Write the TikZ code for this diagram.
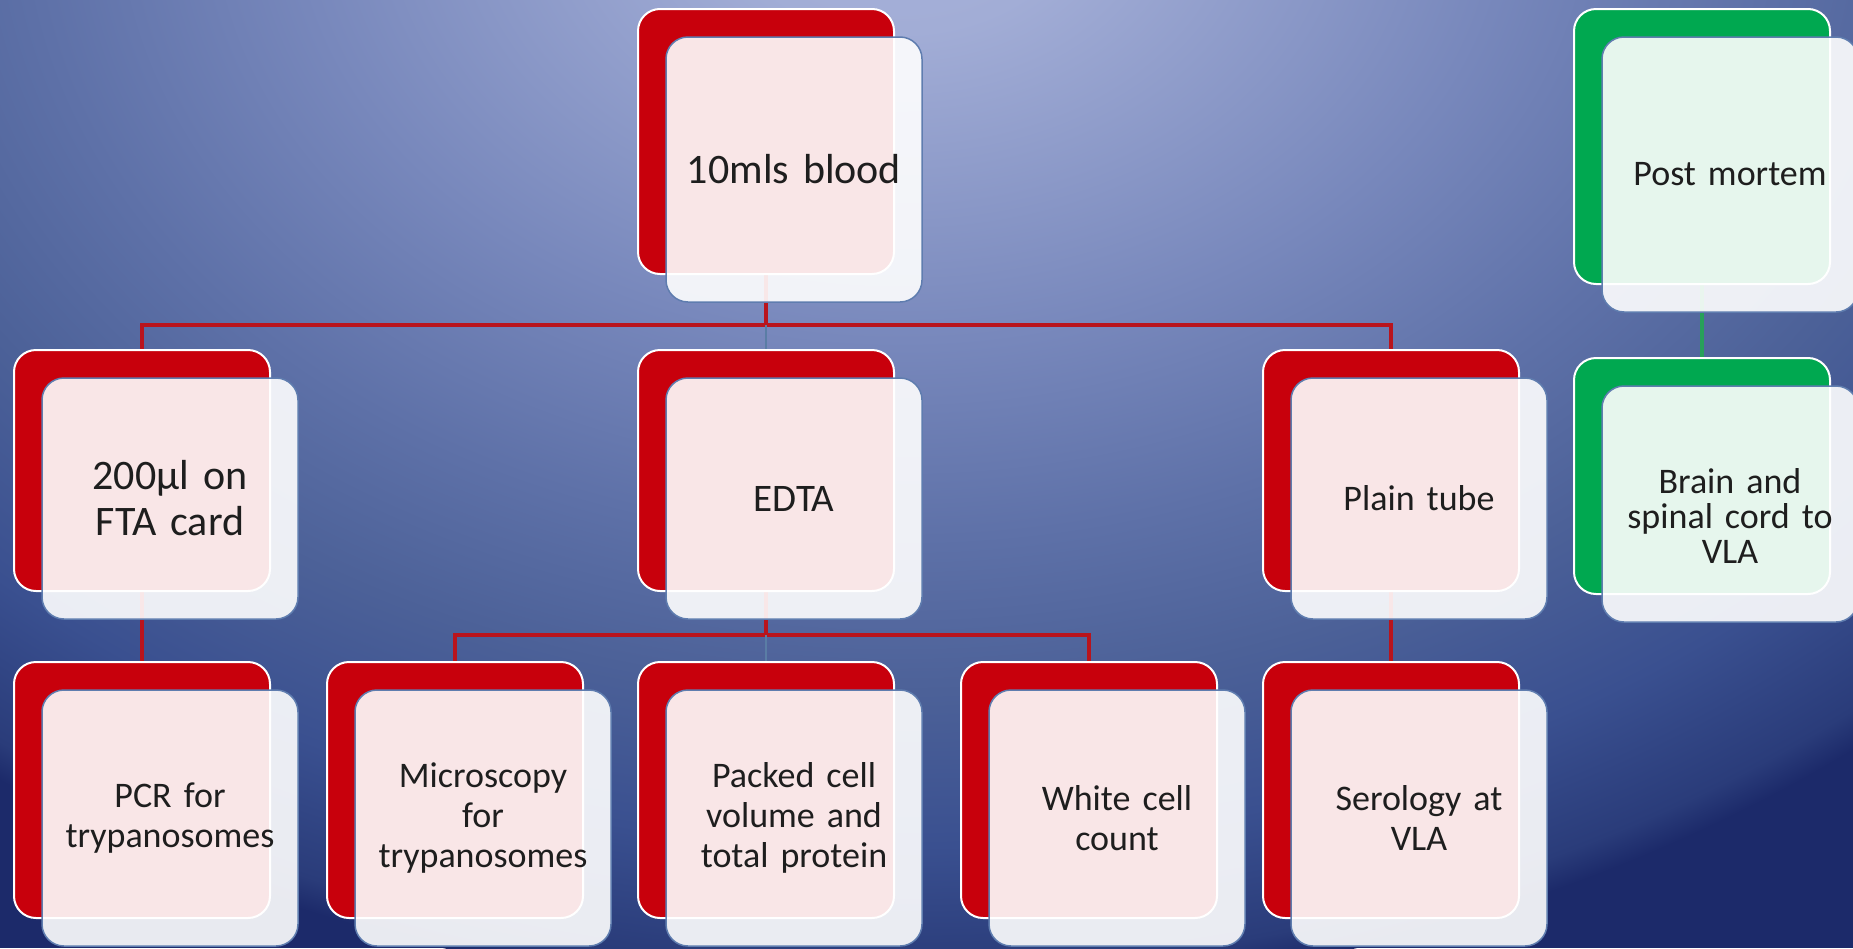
\documentclass[tikz,border=0pt]{standalone}
\usepackage{fontspec}
\setmainfont{Carlito}
\pgfdeclarelayer{bgl}
\pgfdeclarelayer{conl}
\pgfsetlayers{bgl,conl,main}
\definecolor{boxred}{RGB}{200,0,12}
\definecolor{boxgreen}{RGB}{0,168,80}
\definecolor{linered}{RGB}{185,20,28}
\definecolor{linegreen}{RGB}{40,160,90}
\definecolor{lineblue}{RGB}{90,125,165}
\definecolor{rimblue}{RGB}{95,125,175}
\definecolor{txt}{RGB}{30,30,30}
\definecolor{bga}{RGB}{168,178,218}
\definecolor{bgb}{RGB}{162,173,214}
\definecolor{bgc}{RGB}{120,136,188}
\definecolor{bgd}{RGB}{94,113,168}
\definecolor{bge}{RGB}{76,97,152}
\definecolor{bgf}{RGB}{58,80,144}
\definecolor{bgg}{RGB}{42,60,122}
\definecolor{bgh}{RGB}{28,42,106}
\pgfdeclareradialshading{bgshade}{\pgfpoint{0bp}{0bp}}{color(0bp)=(bga); color(3bp)=(bgb); color(10bp)=(bgc); color(14.5bp)=(bgd); color(18bp)=(bge); color(21.5bp)=(bgf); color(24.3bp)=(bgg); color(25bp)=(bgh); color(50bp)=(bgh)}
\newcommand{\fbig}{\fontsize{42pt}{46pt}\selectfont}
\newcommand{\fmid}{\fontsize{39pt}{44pt}\selectfont}
\newcommand{\fsml}{\fontsize{36pt}{40pt}\selectfont}
\newcommand{\ftight}{\fontsize{36pt}{35pt}\selectfont}
% #1 name, #2 cx, #3 ytop, #4 height, #5 back colour, #6 font, #7 text, #8 text shift
\newcommand{\mkbox}[8]{%
  \node[backbox, fill=#5, minimum height=#4pt] (#1b) at (#2, #3+#4/2) {};
  \node[frontbox, minimum height=#4pt] (#1) at (#2+28, #3+#4/2+28) {};
  \node[boxtext, font=#6] (#1t) at (#2+28, #3+#4/2+28+#8) {#7};}
\begin{document}
\begin{tikzpicture}[x=1pt,y=-1pt,
  backbox/.style={draw=white, line width=2pt, rounded corners=22pt, minimum width=256pt, inner sep=0pt},
  frontbox/.style={draw=rimblue, line width=1.5pt, fill=white, fill opacity=0.9,
    rounded corners=22pt, minimum width=256pt, inner sep=0pt},
  boxtext/.style={inner sep=0pt, text width=240pt, align=center, text=txt},
  rline/.style={linered, line width=4pt},
  bline/.style={lineblue, line width=2pt},
  gline/.style={linegreen, line width=4pt}]
\useasboundingbox (0,0) rectangle (1853,948);
\begin{pgfonlayer}{bgl}
\begin{scope}
\clip (0,0) rectangle (1853,948);
\fill[bgh] (0,0) rectangle (1853,948);
\shade[shading=bgshade] (900,-100) ellipse [x radius=1500pt, y radius=1100pt];
\end{scope}
\end{pgfonlayer}
% top row
\mkbox{blood}{766}{9}{265}{boxred}{\fbig}{10mls blood}{0}
\mkbox{pm}{1702}{9}{275}{boxgreen}{\fsml}{Post mortem}{0}
% second row
\mkbox{fta}{142}{350}{241}{boxred}{\fbig}{200µl on\\FTA card}{0}
\mkbox{edta}{766}{350}{241}{boxred}{\fmid}{EDTA}{0}
\mkbox{plain}{1391}{350}{241}{boxred}{\fsml}{Plain tube}{0}
\mkbox{brain}{1702}{358}{236}{boxgreen}{\ftight}{Brain and\\spinal cord to\\VLA}{12}
% third row
\mkbox{pcr}{142}{662}{256}{boxred}{\fsml}{PCR for\\trypanosomes}{0}
\mkbox{micro}{455}{662}{256}{boxred}{\fsml}{Microscopy\\for\\trypanosomes}{0}
\mkbox{packed}{766}{662}{256}{boxred}{\fsml}{Packed cell\\volume and\\total protein}{0}
\mkbox{wcc}{1089}{662}{256}{boxred}{\fsml}{White cell\\count}{0}
\mkbox{sero}{1391}{662}{256}{boxred}{\fsml}{Serology at\\VLA}{0}
% connectors
\begin{pgfonlayer}{conl}
\coordinate (busone) at (766,325);
\coordinate (bustwo) at (766,635);
\draw[rline] (bloodb.south) -- (bloodb.south |- busone);
\draw[rline] (ftab.north) |- (plainb.north |- busone) -- (plainb.north);
\draw[bline] (edtab.north |- busone) -- (edtab.north);
\draw[rline] (edtab.south) -- (edtab.south |- bustwo);
\draw[rline] (microb.north) |- (wccb.north |- bustwo) -- (wccb.north);
\draw[bline] (packedb.north |- bustwo) -- (packedb.north);
\draw[rline] (ftab.south) -- (pcrb.north);
\draw[rline] (plainb.south) -- (serob.north);
\draw[gline] (pmb.south) -- (brainb.north);
\end{pgfonlayer}
\end{tikzpicture}
\end{document}
